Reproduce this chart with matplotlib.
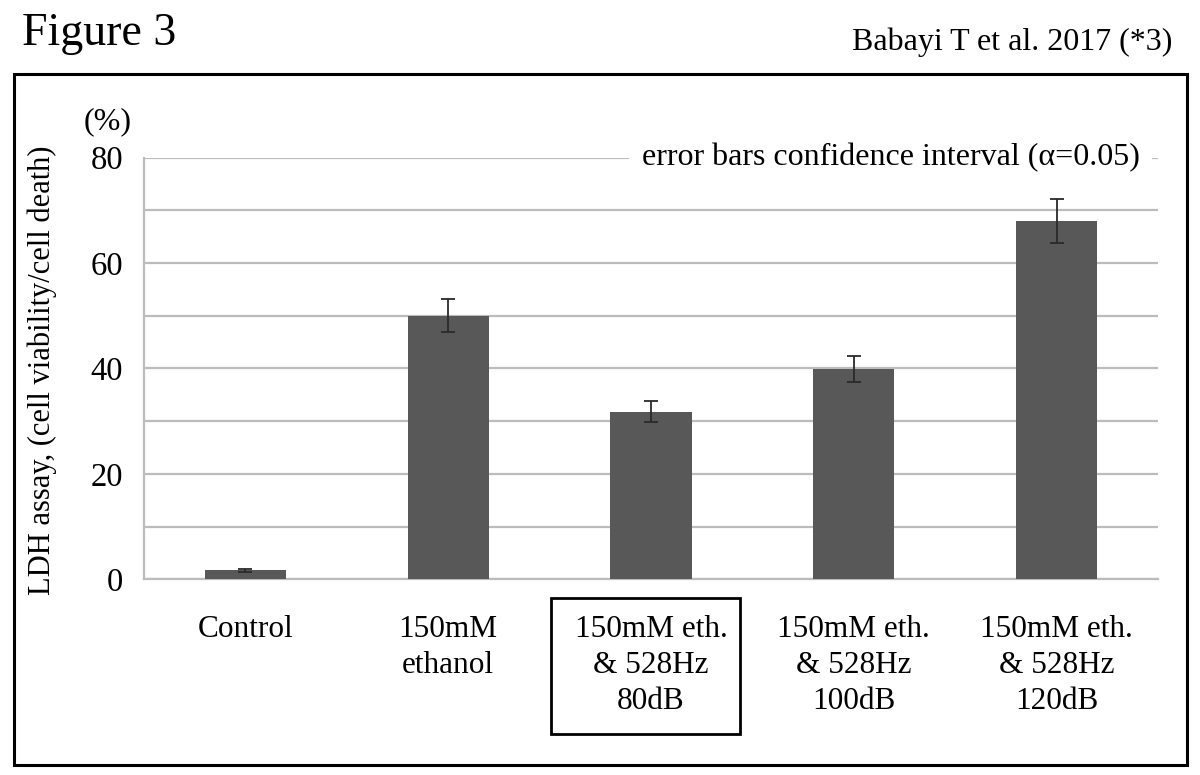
import matplotlib
matplotlib.use("Agg")
import matplotlib.pyplot as plt
from matplotlib.patches import Rectangle

categories = ["Control", "150mM\nethanol", "150mM eth.\n& 528Hz\n80dB",
              "150mM eth.\n& 528Hz\n100dB", "150mM eth.\n& 528Hz\n120dB"]
values = [1.7, 50.0, 31.8, 39.9, 68.0]
errors = [0.3, 3.1, 2.0, 2.4, 4.1]
yticks = [0, 20, 40, 60, 80]

plt.rcParams['font.family'] = ['Liberation Serif', 'DejaVu Serif']

W, H = 1200, 775
fig = plt.figure(figsize=(12, 7.75), dpi=100)

def fx(px):
    return px / W

def fy(py):
    return 1 - py / H

ax = fig.add_axes([fx(144), fy(579.3), fx(1158) - fx(144), fy(157.7) - fy(579.3)])
x = list(range(len(categories)))
ax.bar(x, values, width=0.4, color="#585858", zorder=3)
ax.errorbar(x, values, yerr=errors, fmt="none", ecolor="#2a2a2a",
            elinewidth=1.3, capsize=4.8, capthick=1.3, zorder=4)
ax.set_xlim(-0.5, 4.5)
ax.set_ylim(0, 80)
ax.set_yticks(yticks)
ax.set_yticks(range(10, 80, 20), minor=True)
ax.grid(True, axis="y", which="both", color="#bcbcbc", linewidth=1.6, zorder=0)
ax.tick_params(axis="y", which="both", length=0, labelsize=23.5, pad=15)
ax.tick_params(axis="x", length=0, labelsize=22.5, pad=26)
ax.set_xticks(x)
ax.set_xticklabels(categories, linespacing=1.3, va="top")
for s in ["top", "right"]:
    ax.spines[s].set_visible(False)
for s in ["left", "bottom"]:
    ax.spines[s].set_color("#bcbcbc")
    ax.spines[s].set_linewidth(1.6)

ax.text(0.982, 80, "error bars confidence interval (\u03b1=0.05)", ha="right", va="center",
        fontsize=23, transform=ax.get_yaxis_transform(),
        bbox=dict(facecolor="white", edgecolor="none", pad=9), zorder=5)

fig.text(fx(22), fy(34), "Figure 3", fontsize=33, ha="left", va="center")
fig.text(fx(1172), fy(42), "Babayi T et al. 2017 (*3)", fontsize=23, ha="right", va="center")
fig.text(fx(108), fy(122), "(%)", fontsize=23, ha="center", va="center")
fig.text(fx(42), fy(370), "LDH assay, (cell viability/cell death)", fontsize=22,
         rotation=90, ha="center", va="center")

fig.patches.append(Rectangle((fx(14), fy(765)), fx(1187) - fx(14), fy(74) - fy(765),
                             transform=fig.transFigure, fill=False, edgecolor="black",
                             linewidth=2.2))
fig.patches.append(Rectangle((fx(551), fy(734)), fx(740) - fx(551), fy(598) - fy(734),
                             transform=fig.transFigure, fill=False, edgecolor="black",
                             linewidth=2.0))

fig.savefig("out.png", dpi=100, facecolor="white")
